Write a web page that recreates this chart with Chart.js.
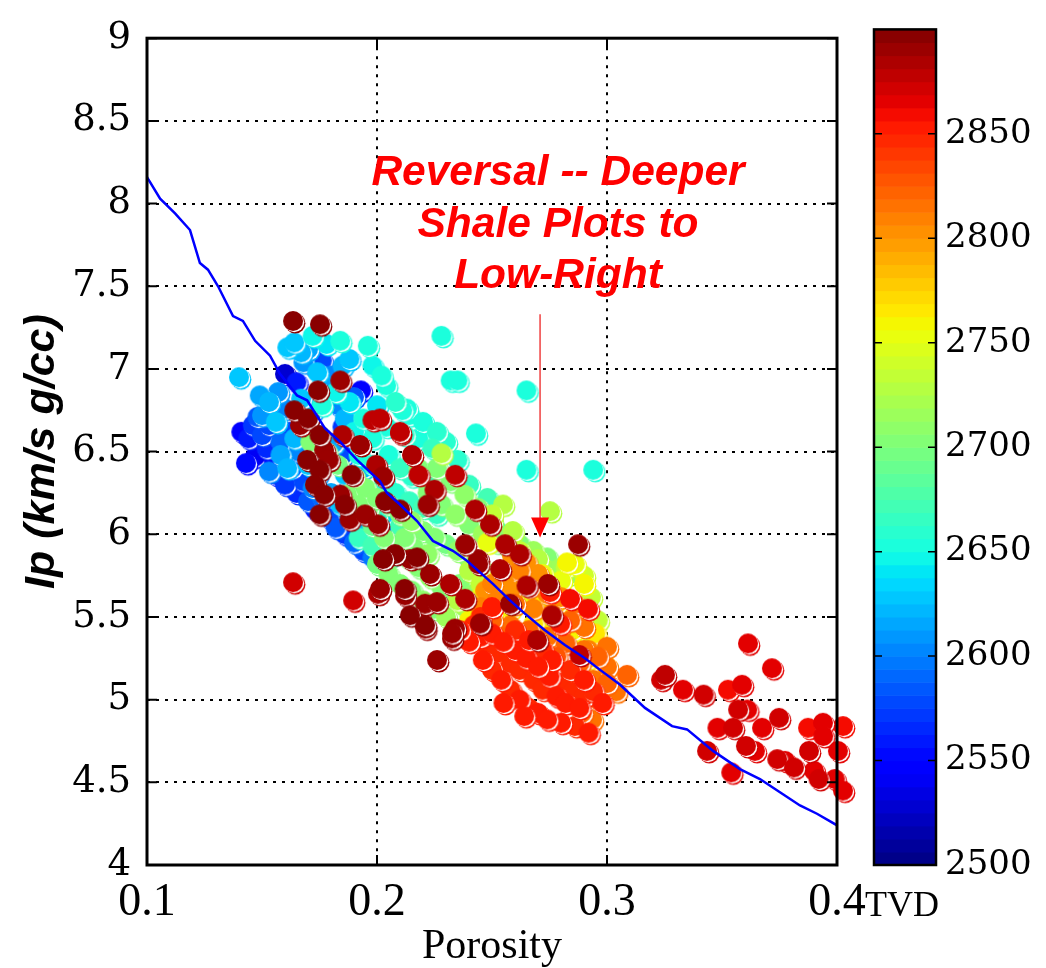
<!DOCTYPE html>
<html>
<head>
<meta charset="utf-8">
<script src="https://cdn.jsdelivr.net/npm/chart.js@4.4.0/dist/chart.umd.min.js"></script>
<style>
body { margin: 0; background: #fff; }
#wrap { position: relative; width: 1046px; height: 968px; }
#main { position: absolute; left: 0; top: 0; }
#cbar { position: absolute; left: 860px; top: 0; }
</style>
</head>
<body>
<div id="wrap">
<canvas id="main" width="1046" height="968"></canvas>
<canvas id="cbar" width="186" height="968"></canvas>
</div>
<script>
// axis ticks
const xTicks = [0.1, 0.2, 0.3, 0.4];
const yTicks = [4, 4.5, 5, 5.5, 6, 6.5, 7, 7.5, 8, 8.5, 9];
const tvdTicks = [2500, 2550, 2600, 2650, 2700, 2750, 2800, 2850];
const tvdMin = 2500, tvdMax = 2900;

// compaction trend
const trendPhi = [0.1,0.1057,0.1122,0.1187,0.123,0.1265,0.1309,0.1374,0.1417,0.147,0.1535,0.1578,0.1652,0.1696,0.1774,0.1839,0.1913,0.2013,0.2043,0.21,0.2174,0.2243,0.233,0.2391,0.2448,0.2504,0.2578,0.2643,0.273,0.2817,0.2904,0.297,0.3057,0.3165,0.3283,0.3348,0.3461,0.3578,0.3665,0.3752,0.3839,0.3913,0.4];
const trendIp = [8.16,8.03,7.94,7.84,7.64,7.60,7.50,7.32,7.29,7.17,7.08,6.97,6.84,6.81,6.64,6.56,6.45,6.32,6.25,6.18,6.08,5.96,5.90,5.84,5.77,5.70,5.60,5.52,5.42,5.33,5.25,5.18,5.09,4.95,4.84,4.82,4.69,4.58,4.52,4.44,4.36,4.31,4.24];

// shale samples: [porosity, Ip, TVD]
const blueZone = [
 [0.141,6.62,2545],[0.144,6.58,2560],[0.146,6.66,2570],[0.148,6.71,2585],[0.150,6.60,2575],[0.143,6.43,2550],[0.147,6.47,2540],
 [0.152,6.52,2565],[0.155,6.45,2555],[0.158,6.56,2590],[0.156,6.36,2560],[0.160,6.30,2570],[0.163,6.40,2580],[0.165,6.25,2565],
 [0.168,6.32,2575],[0.170,6.20,2585],[0.173,6.15,2560],[0.176,6.22,2590],[0.179,6.10,2575],[0.182,6.04,2585],[0.186,6.00,2570],
 [0.190,5.95,2590],[0.194,5.90,2580],[0.198,5.86,2595],[0.202,5.82,2590],[0.160,6.97,2530],[0.165,6.92,2560],[0.172,7.02,2545],
 [0.176,7.05,2580],[0.193,6.87,2545],[0.190,6.83,2585],[0.185,6.48,2575],[0.188,6.30,2590],[0.195,6.10,2585],[0.205,6.05,2560],
 [0.162,6.62,2580],[0.168,6.70,2590],[0.153,6.66,2575],[0.210,6.00,2590],[0.185,6.65,2570]
];
const lightBlueZone = [
 [0.140,6.95,2625],[0.149,6.84,2615],[0.153,6.80,2620],[0.157,6.86,2610],[0.161,7.13,2625],[0.164,7.16,2630],[0.167,7.10,2620],
 [0.170,7.12,2615],[0.168,7.04,2610],[0.174,6.98,2625],[0.180,6.96,2605],[0.185,7.02,2620],[0.188,7.06,2630],[0.178,6.90,2615],
 [0.183,6.78,2600],[0.186,6.70,2620],[0.150,6.72,2610],[0.156,6.68,2625],[0.160,6.76,2600],[0.164,6.58,2620],[0.158,6.48,2615],
 [0.166,6.50,2605],[0.170,6.42,2625],[0.174,6.36,2610],[0.178,6.45,2620],[0.172,6.28,2600],[0.180,6.25,2615],[0.184,6.18,2625],
 [0.188,6.12,2610],[0.192,6.05,2620],[0.196,6.00,2605],[0.200,5.95,2615],[0.186,6.36,2630],[0.191,6.25,2610],[0.198,6.20,2620],
 [0.203,6.12,2625],[0.175,6.60,2630],[0.181,6.55,2615],[0.161,6.40,2620],[0.153,6.38,2605],[0.167,6.82,2625],[0.172,6.75,2610],
 [0.207,5.92,2620],[0.212,5.88,2630],[0.194,6.40,2620]
];
const cyanZone = [
 [0.172,7.20,2645],[0.178,7.15,2640],[0.184,7.17,2650],[0.196,7.14,2655],[0.198,7.02,2645],[0.204,6.90,2650],[0.208,6.80,2660],
 [0.211,6.75,2655],[0.214,6.72,2650],[0.200,6.78,2640],[0.194,6.70,2650],[0.190,6.62,2645],[0.198,6.58,2655],[0.204,6.65,2650],
 [0.212,6.60,2660],[0.218,6.58,2655],[0.224,6.52,2665],[0.230,6.56,2660],[0.228,7.20,2650],[0.232,6.93,2650],[0.235,6.93,2655],
 [0.243,6.61,2650],[0.265,6.87,2650],[0.265,6.39,2650],[0.294,6.39,2650],[0.235,6.45,2660],[0.240,6.30,2665],[0.248,6.22,2670],
 [0.2535,6.01,2665],[0.182,6.86,2645],[0.176,6.78,2650],[0.188,6.80,2640],[0.192,6.48,2655],[0.198,6.42,2660],[0.205,6.48,2650],
 [0.210,6.40,2665],[0.215,6.35,2660],[0.222,6.30,2670],[0.203,6.32,2655],[0.208,6.25,2660],[0.214,6.20,2665],[0.220,6.16,2670],
 [0.226,6.12,2665],[0.210,6.05,2670],[0.200,6.10,2660],[0.192,5.98,2665],[0.198,5.93,2670],[0.206,5.87,2665],
 [0.213,6.76,2650],[0.220,6.68,2655],[0.226,6.62,2660],[0.202,6.96,2650]
];
const greenZone = [
 [0.171,6.56,2700],[0.178,6.50,2705],[0.183,6.42,2695],[0.187,6.24,2700],[0.190,6.35,2710],[0.195,6.28,2700],[0.200,6.22,2705],
 [0.205,6.18,2695],[0.210,6.12,2700],[0.215,6.08,2710],[0.220,6.02,2700],[0.225,5.98,2705],[0.230,5.94,2695],[0.235,5.90,2710],
 [0.240,5.85,2705],[0.245,5.80,2715],[0.250,5.76,2710],[0.198,6.05,2690],[0.203,5.98,2700],[0.208,5.92,2695],[0.213,5.86,2705],
 [0.218,5.80,2700],[0.223,5.74,2710],[0.228,5.68,2700],[0.233,5.62,2705],[0.238,5.56,2715],[0.243,5.52,2710],[0.200,5.82,2695],
 [0.205,5.76,2700],[0.210,5.70,2705],[0.215,5.66,2700],[0.220,5.60,2710],[0.225,5.55,2705],[0.230,5.50,2715],[0.222,6.25,2700],
 [0.228,6.18,2705],[0.234,6.12,2710],[0.240,6.06,2700],[0.246,6.00,2715],[0.252,5.95,2705],[0.258,5.90,2710],[0.264,5.86,2715],
 [0.270,5.82,2710],[0.276,5.78,2715],[0.218,6.40,2700],[0.226,6.40,2705],[0.232,6.32,2700],[0.238,6.24,2710],[0.244,6.16,2705],
 [0.250,6.08,2715],[0.256,5.98,2710],[0.262,5.94,2700],[0.268,5.90,2715],[0.274,5.86,2705],[0.280,5.80,2715],[0.284,5.76,2710],
 [0.236,5.70,2705],[0.242,5.64,2710],[0.248,5.60,2715],[0.196,6.15,2695],[0.192,6.18,2700],[0.212,5.98,2705],[0.216,5.92,2700],
 [0.222,5.88,2710],[0.255,5.70,2715],[0.260,5.76,2710],[0.265,5.74,2715],[0.270,5.70,2715]
];
const limeZone = [
 [0.228,6.49,2730],[0.2548,6.18,2730],[0.2752,6.14,2725],[0.250,6.12,2735],[0.259,6.02,2730],[0.262,5.90,2735],[0.270,5.85,2730],
 [0.282,5.80,2735],[0.290,5.75,2740],[0.293,5.62,2735],[0.288,5.55,2740],[0.296,5.48,2735],[0.292,5.38,2740],[0.240,5.78,2730],
 [0.245,5.70,2735],[0.235,5.60,2725]
];
const yellowZone = [
 [0.286,5.82,2755],[0.290,5.70,2760],[0.280,5.72,2750],[0.275,5.68,2765],[0.265,5.62,2755],[0.270,5.58,2760],[0.260,5.68,2750],
 [0.252,5.72,2765],[0.258,5.55,2760],[0.245,5.62,2755],[0.250,5.52,2765],[0.240,5.48,2760],[0.283,5.50,2755],[0.288,5.45,2760],
 [0.295,5.40,2765],[0.298,5.30,2755],[0.292,5.25,2760],[0.300,5.20,2765],[0.285,5.35,2755],[0.276,5.42,2760],[0.268,5.46,2765],
 [0.255,5.60,2755],[0.262,5.74,2760],[0.278,5.58,2770],[0.272,5.76,2755],[0.248,5.95,2755],[0.2826,5.83,2760],[0.285,5.42,2760]
];
const orangeZone = [
 [0.2587,5.87,2805],[0.265,5.83,2800],[0.262,5.78,2810],[0.270,5.76,2805],[0.256,5.75,2800],[0.250,5.70,2810],[0.258,5.66,2805],
 [0.266,5.68,2815],[0.274,5.64,2810],[0.280,5.62,2805],[0.286,5.58,2815],[0.252,5.60,2810],[0.260,5.58,2815],[0.268,5.55,2810],
 [0.276,5.52,2815],[0.284,5.48,2820],[0.290,5.44,2815],[0.245,5.56,2810],[0.250,5.48,2820],[0.258,5.45,2815],[0.266,5.42,2820],
 [0.274,5.38,2815],[0.282,5.34,2820],[0.290,5.30,2815],[0.296,5.26,2820],[0.300,5.20,2815],[0.288,5.22,2820],[0.278,5.26,2825],
 [0.270,5.30,2820],[0.262,5.34,2825],[0.254,5.38,2820],[0.294,5.12,2815],[0.300,5.10,2820],[0.304,5.05,2815],[0.3087,5.15,2820],
 [0.2935,4.88,2815],[0.289,4.92,2820],[0.285,5.00,2825],[0.280,5.08,2820],[0.296,5.00,2825],[0.292,5.30,2810],[0.300,5.32,2815],
 [0.247,5.66,2805],[0.272,5.70,2800],[0.280,5.45,2810]
];
const redZone = [
 [0.242,5.45,2845],[0.245,5.38,2850],[0.248,5.32,2845],[0.250,5.40,2850],[0.252,5.28,2845],[0.255,5.35,2855],[0.258,5.22,2845],
 [0.260,5.30,2850],[0.262,5.18,2845],[0.265,5.25,2850],[0.268,5.12,2845],[0.270,5.20,2855],[0.272,5.06,2845],[0.275,5.14,2850],
 [0.278,5.02,2850],[0.280,5.10,2845],[0.282,4.98,2850],[0.285,5.05,2845],[0.288,4.95,2850],[0.290,5.02,2845],[0.246,5.24,2850],
 [0.250,5.18,2845],[0.254,5.12,2850],[0.258,5.06,2845],[0.262,5.00,2850],[0.266,4.95,2845],[0.270,4.92,2850],[0.274,4.88,2855],
 [0.255,4.98,2850],[0.264,4.90,2855],[0.280,4.86,2850],[0.286,4.84,2845],[0.292,4.80,2850],[0.260,5.42,2845],[0.266,5.36,2850],
 [0.272,5.30,2845],[0.276,5.24,2850],[0.284,5.18,2845],[0.290,5.12,2850],[0.294,5.05,2845],[0.298,4.98,2850],[0.240,5.35,2850],
 [0.236,5.42,2855],[0.245,5.50,2845],[0.250,5.56,2850],[0.2752,5.65,2855],[0.2839,5.61,2860],[0.2917,5.55,2860],[0.2796,5.46,2855],
 [0.1635,5.71,2870],[0.1896,5.60,2870],
 [0.3235,5.12,2870],[0.3252,5.15,2875],[0.333,5.06,2865],[0.342,5.03,2870],[0.3526,5.06,2860],[0.3587,5.09,2865],[0.3613,5.34,2865],
 [0.3717,5.19,2865],[0.357,4.94,2870],[0.361,4.94,2865],[0.348,4.83,2865],[0.3548,4.83,2870],[0.3674,4.83,2865],[0.3748,4.89,2870],
 [0.3874,4.83,2860],[0.3939,4.86,2865],[0.4026,4.84,2860],[0.394,4.78,2865],[0.4004,4.69,2865],[0.3878,4.69,2870],[0.3604,4.72,2870],
 [0.3643,4.69,2865],[0.374,4.64,2870],[0.3774,4.63,2868],[0.3813,4.59,2870],[0.390,4.57,2868],[0.392,4.52,2870],[0.399,4.52,2865],
 [0.4026,4.45,2865],[0.354,4.56,2865],[0.3435,4.69,2870]
];
const darkRedZone = [
 [0.1635,7.29,2895],[0.1752,7.27,2895],[0.1743,6.87,2895],[0.184,6.93,2890],[0.164,6.75,2895],[0.1665,6.66,2890],[0.170,6.70,2895],
 [0.175,6.60,2895],[0.177,6.51,2890],[0.1696,6.45,2895],[0.175,6.39,2895],[0.179,6.45,2890],[0.173,6.30,2895],[0.177,6.24,2895],
 [0.185,6.60,2885],[0.1926,6.54,2890],[0.198,6.69,2880],[0.189,6.36,2895],[0.184,6.24,2890],[0.175,6.12,2895],[0.186,6.18,2895],
 [0.188,6.09,2890],[0.1996,6.42,2885],[0.2026,6.35,2890],[0.210,6.61,2880],[0.2035,6.20,2895],[0.1948,6.12,2890],[0.2152,6.48,2885],
 [0.218,6.36,2880],[0.225,6.27,2885],[0.234,6.36,2880],[0.222,6.18,2890],[0.210,6.15,2895],[0.2004,6.06,2890],[0.2078,5.88,2895],
 [0.2143,5.85,2890],[0.2026,5.85,2895],[0.2013,5.67,2890],[0.212,5.67,2895],[0.223,5.76,2890],[0.2317,5.70,2885],[0.2209,5.58,2890],
 [0.2143,5.51,2895],[0.2209,5.45,2895],[0.2261,5.24,2890],[0.2339,5.43,2890],[0.2383,5.61,2885],[0.2439,5.85,2890],[0.2491,6.06,2885],
 [0.2383,5.94,2890],[0.2426,6.15,2885],[0.2557,5.94,2885],[0.2743,5.70,2890],[0.276,5.51,2885],[0.2874,5.94,2890],[0.262,5.88,2885],
 [0.2448,5.46,2890],[0.2535,5.79,2885],[0.2578,5.58,2890],[0.2004,5.64,2885],[0.2122,5.63,2890],[0.2174,5.86,2895],[0.226,5.59,2890],
 [0.2187,5.49,2885],[0.221,5.43,2890],[0.2326,5.37,2890],[0.265,5.69,2885],[0.244,5.82,2890],[0.245,5.46,2885],[0.2326,5.40,2890],
 [0.2696,5.36,2885],[0.288,5.27,2880],[0.2013,6.70,2880],[0.210,6.62,2880]
];

// annotation
const noteLines = ['Reversal -- Deeper', 'Shale Plots to', 'Low-Right'];
const notePhi = 0.2787;
const noteIp = [8.11, 7.80, 7.49];
const arrowPhi = 0.2709;
const arrowFromIp = 7.33;
const arrowToIp = 5.98;

// matplotlib jet, 64 levels
const jetR = [[0, 0], [0.35, 0], [0.66, 1], [0.89, 1], [1, 0.5]];
const jetG = [[0, 0], [0.125, 0], [0.375, 1], [0.64, 1], [0.91, 0], [1, 0]];
const jetB = [[0, 0.5], [0.11, 1], [0.34, 1], [0.65, 0], [1, 0]];
function channel(stops, t) {
  for (let i = 1; i < stops.length; i++) {
    if (t <= stops[i][0]) {
      const a = stops[i - 1], b = stops[i];
      return a[1] + (b[1] - a[1]) * (t - a[0]) / (b[0] - a[0]);
    }
  }
  return stops[stops.length - 1][1];
}
function jet(t) {
  t = Math.min(1, Math.max(0, t));
  const lv = Math.min(63, Math.floor(t * 64));
  const q = (lv + 0.5) / 64;
  const c = v => Math.round(255 * v);
  return 'rgb(' + c(channel(jetR, q)) + ',' + c(channel(jetG, q)) + ',' + c(channel(jetB, q)) + ')';
}
function tvdColor(v) { return jet((v - tvdMin) / (tvdMax - tvdMin)); }

// shaded marker: disc with a thin offset rim
const sprites = {};
function bubble(color) {
  if (sprites[color]) return sprites[color];
  const c = document.createElement('canvas');
  c.width = c.height = 30;
  const g = c.getContext('2d');
  g.fillStyle = color;
  g.beginPath(); g.arc(17.2, 17.2, 10.2, 0, Math.PI * 2); g.fill();
  g.fillStyle = '#fff';
  g.beginPath(); g.arc(16.2, 16.2, 10, 0, Math.PI * 2); g.fill();
  g.fillStyle = color;
  g.beginPath(); g.arc(15, 15, 10, 0, Math.PI * 2); g.fill();
  sprites[color] = c;
  return c;
}

let samples = [].concat(blueZone, lightBlueZone, cyanZone, greenZone, limeZone, yellowZone, orangeZone, redZone, darkRedZone);
samples.sort((a, b) => a[2] - b[2]);

const frame = {
  id: 'frame',
  afterDatasetsDraw(chart) {
    const ctx = chart.ctx, a = chart.chartArea;
    const sx = chart.scales.x, sy = chart.scales.y;
    ctx.save();
    // note + arrow
    ctx.fillStyle = '#ff0000';
    ctx.font = 'italic bold 42.5px "Liberation Sans"';
    ctx.textAlign = 'center';
    ctx.textBaseline = 'alphabetic';
    noteLines.forEach((t, i) => ctx.fillText(t, sx.getPixelForValue(notePhi), sy.getPixelForValue(noteIp[i])));
    const ax = sx.getPixelForValue(arrowPhi);
    const y0 = sy.getPixelForValue(arrowFromIp), y1 = sy.getPixelForValue(arrowToIp);
    ctx.strokeStyle = '#f04040';
    ctx.lineWidth = 1.5;
    ctx.beginPath(); ctx.moveTo(ax, y0); ctx.lineTo(ax, y1 - 18); ctx.stroke();
    ctx.beginPath(); ctx.moveTo(ax - 9, y1 - 20); ctx.lineTo(ax + 9, y1 - 20); ctx.lineTo(ax, y1); ctx.closePath(); ctx.fill();
    // box and inward ticks
    ctx.strokeStyle = '#000';
    ctx.lineWidth = 2;
    ctx.beginPath();
    xTicks.forEach(v => {
      const p = sx.getPixelForValue(v);
      ctx.moveTo(p, a.bottom); ctx.lineTo(p, a.bottom - 10);
      ctx.moveTo(p, a.top); ctx.lineTo(p, a.top + 10);
    });
    yTicks.forEach(v => {
      const p = sy.getPixelForValue(v);
      ctx.moveTo(a.left, p); ctx.lineTo(a.left + 10, p);
      ctx.moveTo(a.right, p); ctx.lineTo(a.right - 10, p);
    });
    ctx.stroke();
    ctx.lineWidth = 3;
    ctx.strokeRect(a.left, a.top, a.right - a.left, a.bottom - a.top);
    ctx.restore();
  }
};

new Chart(document.getElementById('main'), {
  type: 'scatter',
  data: {
    datasets: [
      {
        type: 'line',
        data: trendPhi.map((x, i) => ({ x: x, y: trendIp[i] })),
        borderColor: '#0000ff',
        borderWidth: 2.5,
        pointRadius: 0,
        fill: false,
        tension: 0,
        order: 0
      },
      {
        data: samples.map(s => ({ x: s[0], y: s[1], tvd: s[2] })),
        pointStyle: c => (c.raw ? bubble(tvdColor(c.raw.tvd)) : 'circle'),
        pointRadius: 10,
        clip: false,
        order: 1
      }
    ]
  },
  options: {
    responsive: false,
    animation: false,
    events: [],
    plugins: { legend: { display: false }, tooltip: { enabled: false } },
    layout: { padding: { left: 0, right: 209, top: 28, bottom: 0 } },
    scales: {
      x: {
        type: 'linear', min: 0.1, max: 0.4,
        afterBuildTicks: s => { s.ticks = xTicks.map(v => ({ value: v })); },
        afterFit: s => { s.height = 103; },
        ticks: { color: '#000', padding: 10, font: { family: 'Liberation Serif', size: 46 }, callback: v => v.toFixed(1) },
        grid: { color: '#000', lineWidth: 2, drawTicks: false },
        border: { display: false, dash: [3, 6] },
        title: { display: true, text: 'Porosity', color: '#000', padding: 0, font: { family: 'Liberation Serif', size: 42, lineHeight: 1 } }
      },
      y: {
        type: 'linear', min: 4, max: 9,
        afterBuildTicks: s => { s.ticks = yTicks.map(v => ({ value: v })); },
        afterFit: s => { s.width = 147; },
        ticks: { color: '#000', padding: 16, font: { family: 'DejaVu Serif', size: 37 }, callback: v => String(v) },
        grid: { color: '#000', lineWidth: 2, drawTicks: false },
        border: { display: false, dash: [3, 6] },
        title: { display: true, text: 'Ip (km/s g/cc)', color: '#000', padding: { top: 16, bottom: 0 }, font: { family: 'Liberation Sans', size: 43, weight: 'bold', style: 'italic' } }
      }
    }
  },
  plugins: [frame]
});

// colour bar
const barPaint = {
  id: 'barPaint',
  beforeDatasetsDraw(chart) {
    const ctx = chart.ctx, a = chart.chartArea, sy = chart.scales.y;
    ctx.save();
    const n = 64;
    for (let i = 0; i < n; i++) {
      const v0 = tvdMin + (tvdMax - tvdMin) * i / n;
      const v1 = tvdMin + (tvdMax - tvdMin) * (i + 1) / n;
      const p0 = sy.getPixelForValue(v0), p1 = sy.getPixelForValue(v1);
      ctx.fillStyle = jet((i + 0.5) / n);
      ctx.fillRect(a.left, p1, a.right - a.left, p0 - p1 + 0.6);
    }
    ctx.strokeStyle = '#000';
    ctx.lineWidth = 1.5;
    ctx.beginPath();
    tvdTicks.forEach(v => {
      const p = sy.getPixelForValue(v);
      ctx.moveTo(a.left, p); ctx.lineTo(a.left + 8, p);
      ctx.moveTo(a.right, p); ctx.lineTo(a.right - 8, p);
    });
    ctx.stroke();
    ctx.lineWidth = 2.5;
    ctx.strokeRect(a.left, a.top, a.right - a.left, a.bottom - a.top);
    ctx.fillStyle = '#000';
    ctx.font = '36px "Liberation Serif"';
    ctx.textAlign = 'center';
    ctx.textBaseline = 'middle';
    ctx.fillText('TVD', (a.left + a.right) / 2 - 3, a.bottom + 42);
    ctx.restore();
  }
};

new Chart(document.getElementById('cbar'), {
  type: 'scatter',
  data: { datasets: [] },
  options: {
    responsive: false,
    animation: false,
    events: [],
    plugins: { legend: { display: false }, tooltip: { enabled: false } },
    layout: { padding: { left: 14, right: 0, top: 28, bottom: 103 } },
    scales: {
      x: { display: false, min: 0, max: 1 },
      y: {
        position: 'right', min: tvdMin, max: tvdMax,
        afterBuildTicks: s => { s.ticks = tvdTicks.map(v => ({ value: v })); },
        afterFit: s => { s.width = 110; },
        ticks: { color: '#000', padding: 9, font: { family: 'DejaVu Serif', size: 34 }, callback: v => String(v) },
        grid: { display: false, drawTicks: false },
        border: { display: false }
      }
    }
  },
  plugins: [barPaint]
});
</script>
</body>
</html>
